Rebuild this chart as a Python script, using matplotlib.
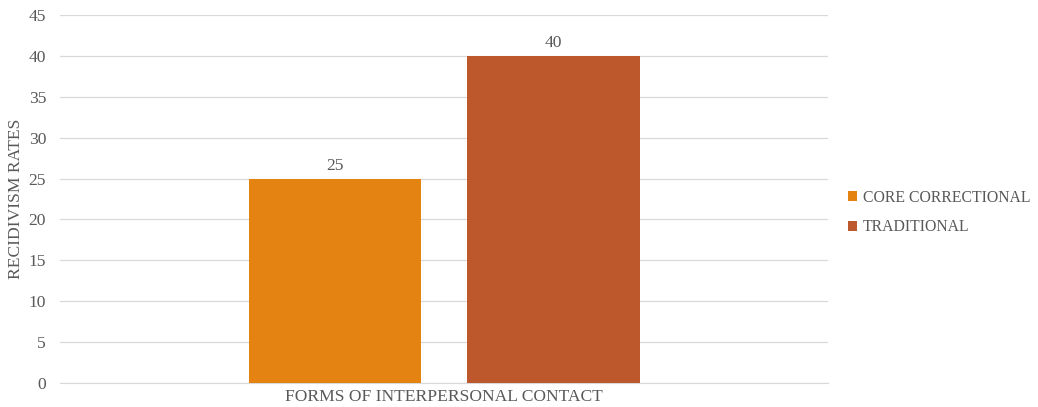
import matplotlib.pyplot as plt
import numpy as np

plt.rcParams['font.family'] = ['Liberation Serif', 'DejaVu Serif']

# recidivism rates by form of interpersonal contact
categories = ['FORMS OF INTERPERSONAL CONTACT']
series_names = ['CORE CORRECTIONAL', 'TRADITIONAL']
series_values = [[25], [40]]
colors = ['#E48312', '#BD582C']
y_ticks = [0, 5, 10, 15, 20, 25, 30, 35, 40, 45]

text_color = '#595959'
fs = 12.6

fig = plt.figure(figsize=(10.38, 4.07), dpi=100)
ax = fig.add_axes([0.0578, 0.059, 0.74, 0.904])

x = np.arange(len(categories))
width = 0.224
gap = 0.061
offsets = [-(width + gap) / 2, (width + gap) / 2]

for name, vals, col, off in zip(series_names, series_values, colors, offsets):
    bars = ax.bar(x + off, vals, width, color=col, label=name, zorder=3)
    for rect, v in zip(bars, vals):
        ax.text(rect.get_x() + rect.get_width() / 2, v + 0.6, str(v),
                ha='center', va='bottom', fontsize=fs, color=text_color)

ax.set_xlim(-0.5, 0.5)
ax.set_ylim(0, 45)
ax.set_yticks(y_ticks)
ax.set_xticks(x)
ax.set_xticklabels(categories)
ax.tick_params(axis='both', length=0, labelsize=fs, labelcolor=text_color)
ax.tick_params(axis='y', pad=10)
ax.tick_params(axis='x', pad=4)
ax.grid(axis='y', color='#D9D9D9', linewidth=0.9, zorder=0)
for s in ['top', 'right', 'left']:
    ax.spines[s].set_visible(False)
ax.spines['bottom'].set_color('#D9D9D9')
ax.set_ylabel('RECIDIVISM RATES', fontsize=fs, color=text_color, labelpad=3)

leg = fig.legend(loc='center left', bbox_to_anchor=(0.803, 0.478), frameon=False,
                 fontsize=11.3, handlelength=0.6, handleheight=0.6,
                 handletextpad=0.35, labelspacing=0.85)
for t in leg.get_texts():
    t.set_color(text_color)

fig.savefig('out.png', dpi=100)
